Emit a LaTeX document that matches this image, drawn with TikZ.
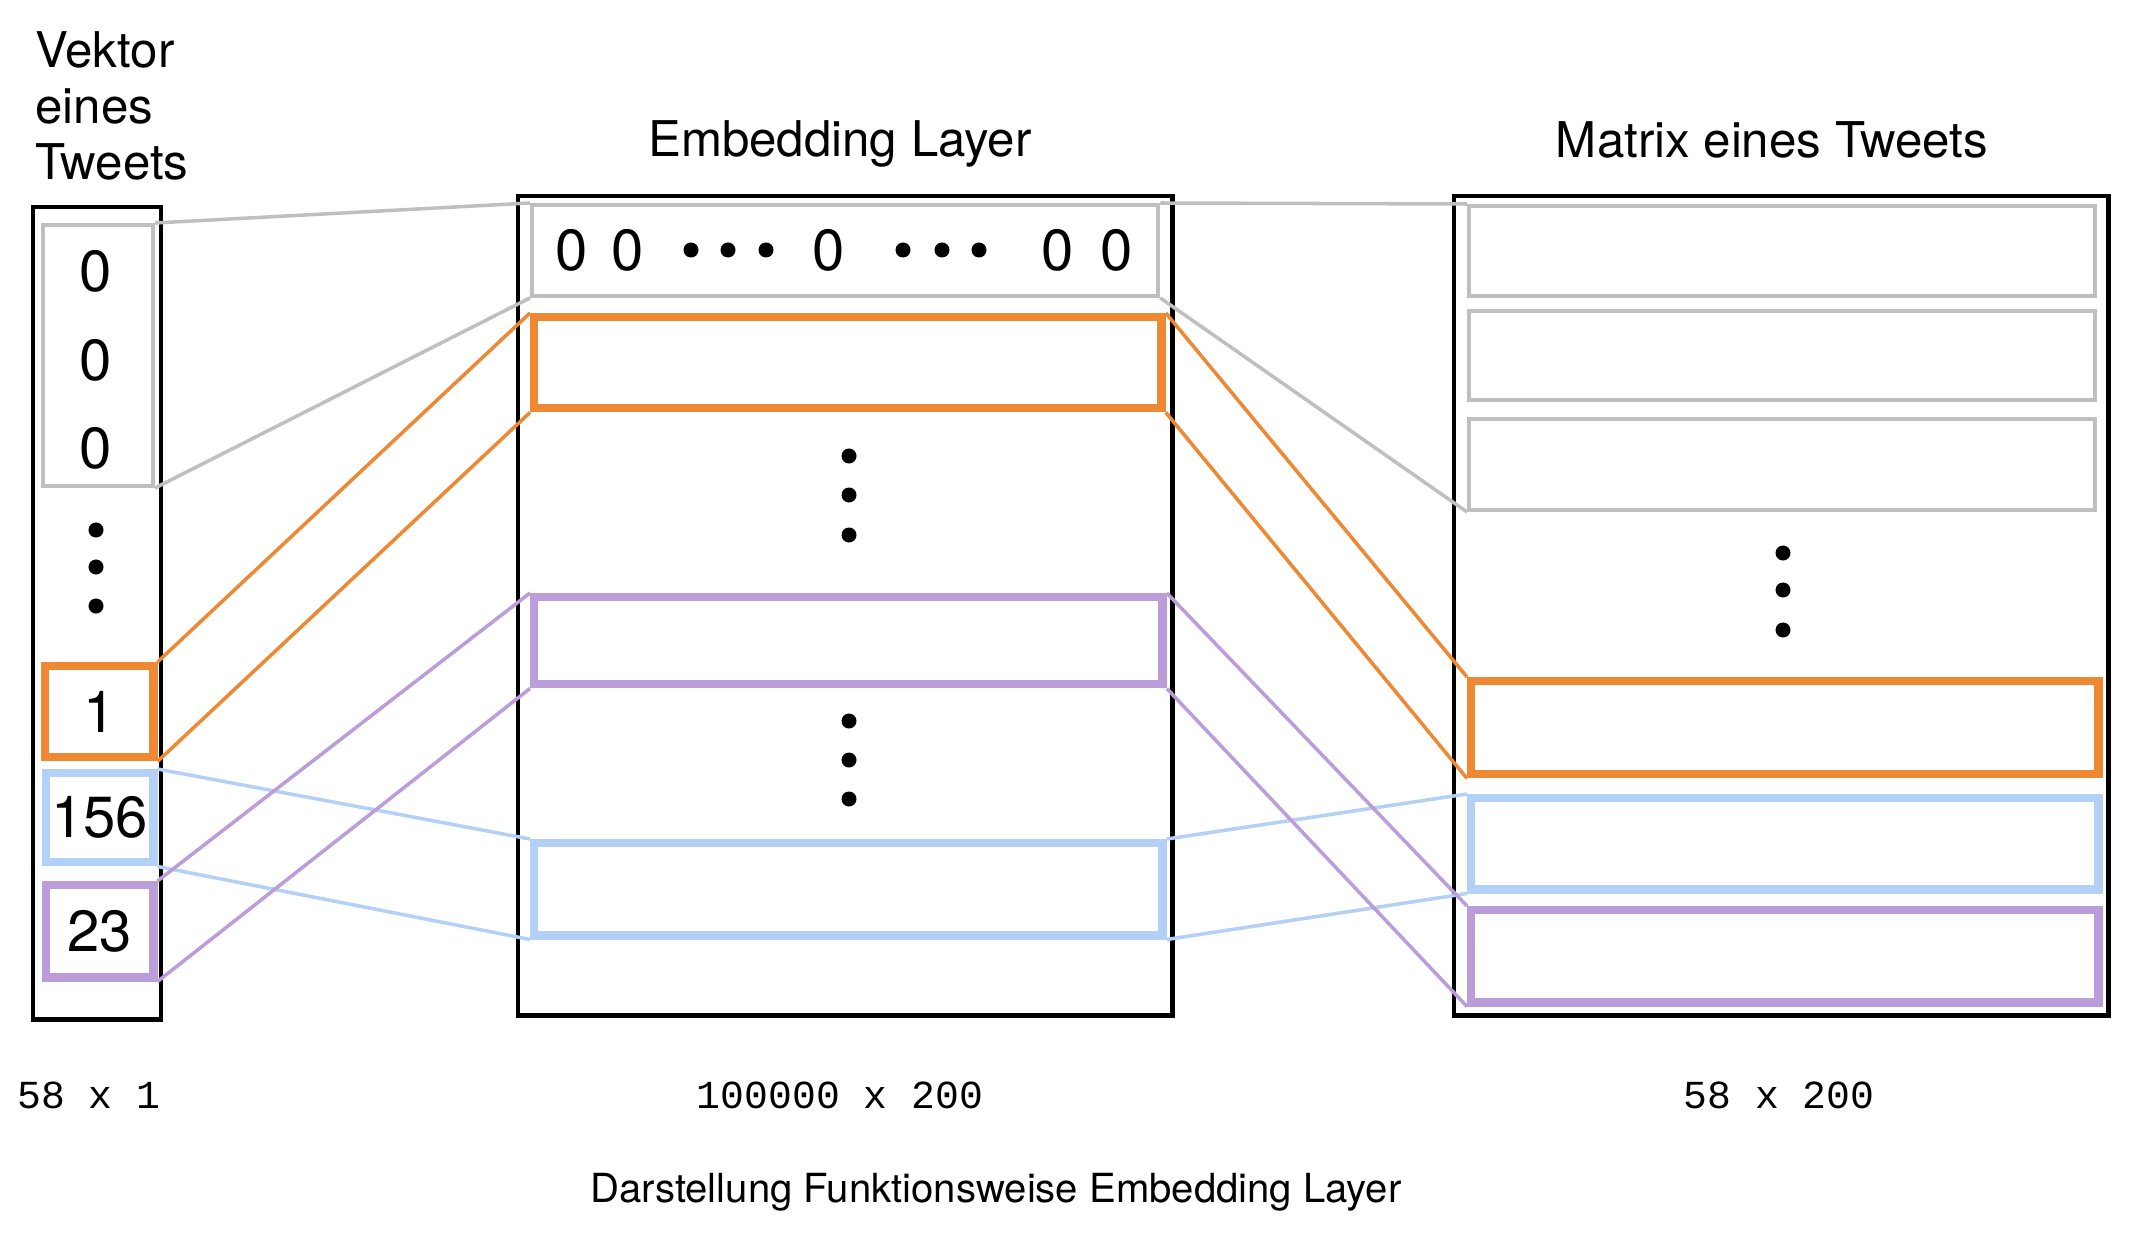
\documentclass[tikz,border=0pt]{standalone}
\usepackage{fontspec}
\setmainfont{TeX Gyre Heros}
\newfontfamily\monofont{Liberation Mono}
\usetikzlibrary{positioning}

\definecolor{tworange}{RGB}{239,136,51}
\definecolor{twblau}{RGB}{179,208,247}
\definecolor{twlila}{RGB}{187,158,217}
\definecolor{twgrau}{RGB}{191,191,191}

\begin{document}
\begin{tikzpicture}[x=0.01cm,y=-0.01cm,
  box/.style={draw,inner sep=0pt,anchor=north west},
  wh/.style 2 args={minimum width=#1cm,minimum height=#2cm},
  rahmen/.style={box,line width=1.2pt},
  grau/.style={box,draw=twgrau,line width=1.1pt},
  farbig/.style={box,line width=2.4pt},
  titel/.style={font=\fontsize{14}{16}\selectfont},
  zahl/.style={font=\fontsize{16.5}{20}\selectfont},
  dim/.style={font=\monofont\fontsize{11.3}{13}\selectfont},
  verb/.style={line width=1pt}]
\useasboundingbox (0,0) rectangle (2146,1255);

% Vektor eines Tweets
\node[titel,align=left,anchor=west] (tvec) at (23,106) {Vektor\\eines\\Tweets};
\node[rahmen,wh={1.28}{8.12}] (vec) at (31,205) {};
\node[grau,wh={1.10}{2.61}] (vg) at (41,223) {};
\foreach \y in {271,360,448}
  \node[zahl] (vz\y) at (96,\y) {0};
\foreach \y in {530,567,606}
  \fill (96,\y) circle (0.075cm);
\node[farbig,draw=tworange,wh={1.08}{0.91},zahl] (v1) at (41,662) {1};
\node[farbig,draw=twblau,wh={1.07}{0.89},zahl] (v156) at (42,769) {156};
\node[farbig,draw=twlila,wh={1.07}{0.92},zahl] (v23) at (42,881) {23};

% Embedding Layer
\node[titel,anchor=base] (temb) at (840,157) {Embedding Layer};
\node[rahmen,wh={6.54}{8.19}] (emb) at (516,194) {};
\node[grau,wh={6.26}{0.91}] (eg) at (530,203) {};
\foreach \x in {572,628,829,1058,1117}
  \node[zahl] (ez\x) at (\x,250) {0};
\foreach \x in {691,728,766,903,942,979}
  \fill (\x,250) circle (0.075cm);
\node[farbig,draw=tworange,wh={6.27}{0.91}] (eo) at (530,313) {};
\foreach \y in {456,495,535}
  \fill (849,\y) circle (0.075cm);
\node[farbig,draw=twlila,wh={6.28}{0.87}] (ep) at (530,593) {};
\foreach \y in {721,760,799}
  \fill (849,\y) circle (0.075cm);
\node[farbig,draw=twblau,wh={6.28}{0.92}] (eb) at (530,839) {};

% Matrix eines Tweets
\node[titel,anchor=base] (tmat) at (1772,158) {Matrix eines Tweets};
\node[rahmen,wh={6.54}{8.19}] (mat) at (1452,194) {};
\node[grau,wh={6.26}{0.90}] (mg1) at (1467,204) {};
\node[grau,wh={6.26}{0.89}] (mg2) at (1467,309) {};
\node[grau,wh={6.26}{0.91}] (mg3) at (1467,417) {};
\foreach \y in {553,590,630}
  \fill (1783,\y) circle (0.075cm);
\node[farbig,draw=tworange,wh={6.27}{0.93}] (mo) at (1467,677) {};
\node[farbig,draw=twblau,wh={6.27}{0.91}] (mb) at (1467,794) {};
\node[farbig,draw=twlila,wh={6.27}{0.92}] (mp) at (1467,906) {};

% Verbindungen
\draw[verb,twgrau] (vg.north east) -- (eg.north west);
\draw[verb,twgrau] (vg.south east) -- (eg.south west);
\draw[verb,twgrau] (eg.north east) -- (mg1.north west);
\draw[verb,twgrau] (eg.south east) -- (mg3.south west);
\foreach \a/\b/\c/\f in {v1/eo/mo/tworange,v156/eb/mb/twblau,v23/ep/mp/twlila}{
  \draw[verb,\f] (\a.north east) -- (\b.north west);
  \draw[verb,\f] (\a.south east) -- (\b.south west);
  \draw[verb,\f] (\b.north east) -- (\c.north west);
  \draw[verb,\f] (\b.south east) -- (\c.south west);
}

% Dimensionen
\node[dim] (dvec) at (89,1095) {58 x 1};
\node[dim] (demb) at (840,1095) {100000 x 200};
\node[dim] (dmat) at (1779,1095) {58 x 200};
\node[font=\fontsize{11.4}{13}\selectfont] (cap) at (996,1192) {Darstellung Funktionsweise Embedding Layer};
\end{tikzpicture}
\end{document}
